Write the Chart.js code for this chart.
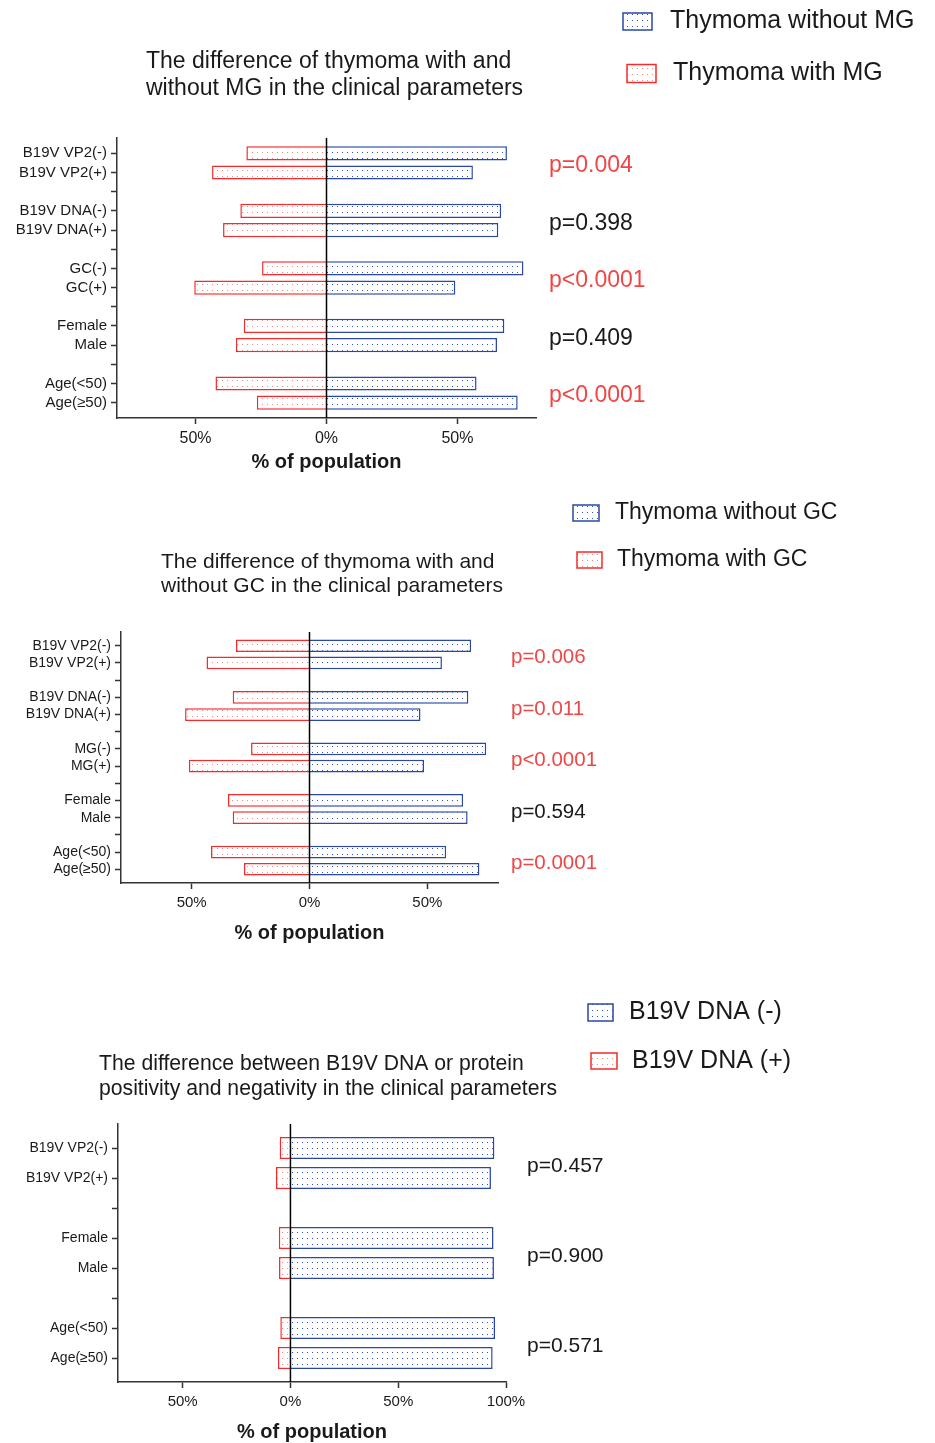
<!DOCTYPE html>
<html>
<head>
<meta charset="utf-8">
<script src="https://cdn.jsdelivr.net/npm/chart.js@4.4.1/dist/chart.umd.min.js"></script>
<style>
  body { margin: 0; background: #fff; width: 935px; height: 1443px; position: relative; overflow: hidden; }
  canvas { position: absolute; left: 0; }
</style>
</head>
<body>
<canvas id="c1" width="935" height="480" style="top:0"></canvas>
<canvas id="c2" width="935" height="480" style="top:480px"></canvas>
<canvas id="c3" width="935" height="485" style="top:960px"></canvas>
<script>
// chart 1: MG
const rowsMG = ['B19V VP2(-)', 'B19V VP2(+)', '', 'B19V DNA(-)', 'B19V DNA(+)', '', 'GC(-)', 'GC(+)', '', 'Female', 'Male', '', 'Age(<50)', 'Age(≥50)'];
const withoutMG = [68.9, 55.9, null, 66.7, 65.6, null, 75.2, 49.2, null, 67.9, 65.1, null, 57.3, 73.0];
const withMG = [30.6, 43.7, null, 32.9, 39.5, null, 24.6, 50.5, null, 31.6, 34.6, null, 42.4, 26.6];
const pMG = ['p=0.004', 'p=0.398', 'p<0.0001', 'p=0.409', 'p<0.0001'];
const legendMG = ['Thymoma without MG', 'Thymoma with MG'];
const titleMG = ['The difference of thymoma with and', 'without MG in the clinical parameters'];

// chart 2: GC
const rowsGC = ['B19V VP2(-)', 'B19V VP2(+)', '', 'B19V DNA(-)', 'B19V DNA(+)', '', 'MG(-)', 'MG(+)', '', 'Female', 'Male', '', 'Age(<50)', 'Age(≥50)'];
const withoutGC = [68.6, 56.2, null, 67.4, 47.1, null, 75.0, 48.6, null, 65.2, 67.1, null, 58.0, 72.1];
const withGC = [31.2, 43.7, null, 32.6, 52.8, null, 24.8, 51.2, null, 34.6, 32.6, null, 41.8, 27.8];
const pGC = ['p=0.006', 'p=0.011', 'p<0.0001', 'p=0.594', 'p=0.0001'];
const legendGC = ['Thymoma without GC', 'Thymoma with GC'];
const titleGC = ['The difference of thymoma with and', 'without GC in the clinical parameters'];

// chart 3: B19V DNA
const rowsDNA = ['B19V VP2(-)', 'B19V VP2(+)', '', 'Female', 'Male', '', 'Age(<50)', 'Age(≥50)'];
const dnaNeg = [94.6, 93.0, null, 94.2, 94.4, null, 94.9, 93.8];
const dnaPos = [5.0, 6.7, null, 5.4, 5.3, null, 4.7, 5.8];
const pDNA = ['p=0.457', 'p=0.900', 'p=0.571'];
const legendDNA = ['B19V DNA (-)', 'B19V DNA (+)'];
const titleDNA = ['The difference between B19V DNA or protein', 'positivity and negativity in the clinical parameters'];

const ticksMG = [-50, 0, 50];
const ticksDNA = [-50, 0, 50, 100];

const FONT = '"Liberation Sans", Arial, Helvetica, sans-serif';
const BLUE = '#2a47a6';
const RED = '#f52a2a';
const PRED = '#ef4646';
const INK = '#1a1a1a';

function dots(color) {
  const c = document.createElement('canvas');
  c.width = 5; c.height = 6;
  const g = c.getContext('2d');
  g.fillStyle = '#fff';
  g.fillRect(0, 0, 5, 6);
  g.fillStyle = color;
  g.fillRect(2, 2, 1, 1);
  return g.createPattern(c, 'repeat');
}
const bluePat = dots('#2f4fc0');
const redPat = dots('#f08a8a');

const decorations = {
  id: 'decorations',
  afterDraw(chart, args, o) {
    const { ctx, chartArea } = chart;
    const x = chart.scales.x, y = chart.scales.y;
    ctx.save();
    // zero line
    const x0 = x.getPixelForValue(0);
    ctx.strokeStyle = '#000';
    ctx.lineWidth = 1.5;
    ctx.beginPath();
    ctx.moveTo(x0, chartArea.top);
    ctx.lineTo(x0, chartArea.bottom);
    ctx.stroke();

    // title
    ctx.textAlign = 'left';
    ctx.textBaseline = 'middle';
    ctx.fillStyle = INK;
    ctx.font = o.titleSize + 'px ' + FONT;
    o.title.forEach((t, i) => ctx.fillText(t, o.titleX, o.titleY[i]));

    // legend
    ctx.font = o.legendSize + 'px ' + FONT;
    o.legend.forEach((b, i) => {
      ctx.fillStyle = i === 0 ? bluePat : redPat;
      ctx.fillRect(b.x, b.y - b.h / 2, b.w, b.h);
      ctx.strokeStyle = i === 0 ? BLUE : RED;
      ctx.lineWidth = 1.5;
      ctx.strokeRect(b.x, b.y - b.h / 2, b.w, b.h);
      ctx.fillStyle = INK;
      ctx.fillText(o.names[i], b.tx, b.y);
    });

    // p values, centred on each pair of rows
    ctx.font = o.pSize + 'px ' + FONT;
    o.pvals.forEach((p, k) => {
      const yy = (y.getPixelForValue(3 * k) + y.getPixelForValue(3 * k + 1)) / 2 + 3;
      ctx.fillStyle = parseFloat(p.slice(2)) < 0.05 ? PRED : INK;
      ctx.fillText(p, chartArea.right + o.pGap, yy);
    });
    ctx.restore();
  }
};

function makeChart(id, c) {
  const toPts = (arr, sign) => arr.map((v, i) => v == null ? null : { x: sign * v, y: i }).filter(Boolean);
  const H = c.canvasH;
  return new Chart(document.getElementById(id), {
    type: 'bar',
    data: {
      datasets: [
        { data: toPts(c.pos, 1), backgroundColor: bluePat, borderColor: BLUE, borderWidth: 1.5, grouped: false, barPercentage: 0.74, categoryPercentage: 1 },
        { data: toPts(c.neg, -1), backgroundColor: redPat, borderColor: RED, borderWidth: 1.5, grouped: false, barPercentage: 0.74, categoryPercentage: 1 }
      ]
    },
    options: {
      indexAxis: 'y',
      responsive: false,
      animation: false,
      layout: { padding: { left: 0, right: 935 - c.area.right, top: c.area.top, bottom: H - c.area.bottom - c.xH } },
      plugins: {
        legend: { display: false },
        tooltip: { enabled: false },
        decorations: c.deco
      },
      scales: {
        x: {
          type: 'linear',
          min: c.xMin, max: c.xMax,
          afterBuildTicks: s => { s.ticks = c.xTicks.map(v => ({ value: v })); },
          afterFit: s => { s.height = c.xH; },
          ticks: { color: INK, font: { family: FONT, size: c.xTickSize }, padding: 5, callback: v => Math.abs(v) + '%' },
          grid: { drawOnChartArea: false, drawTicks: true, tickLength: 6, tickColor: '#333', tickWidth: 1.5 },
          border: { color: '#333', width: 1.5 },
          title: { display: true, text: '% of population', color: INK, font: { family: FONT, size: 20, weight: 'bold' }, padding: { top: 0, bottom: c.xTitlePad } }
        },
        y: {
          type: 'linear',
          reverse: true,
          offset: false,
          min: -0.8, max: c.rows.length - 0.2,
          afterBuildTicks: s => { s.ticks = c.rows.map((_, i) => ({ value: i })); },
          afterFit: s => { s.width = c.area.left; },
          ticks: { color: INK, font: { family: FONT, size: c.yTickSize }, padding: 4, autoSkip: false, callback: v => c.rows[v] || '' },
          grid: { offset: false, drawOnChartArea: false, drawTicks: true, tickLength: 6, tickColor: '#333', tickWidth: 1.5 },
          border: { color: '#333', width: 1.5 }
        }
      }
    },
    plugins: [decorations]
  });
}

makeChart('c1', {
  rows: rowsMG, pos: withoutMG, neg: withMG, canvasH: 480,
  area: { left: 117, right: 536, top: 138, bottom: 418 }, xH: 62, xTitlePad: 6,
  xMin: -80, xMax: 80, xTicks: ticksMG, xTickSize: 16, yTickSize: 15,
  deco: {
    title: titleMG, titleX: 146, titleY: [62, 89], titleSize: 23,
    names: legendMG, legendSize: 25,
    legend: [{ x: 623, y: 21.5, w: 29, h: 17, tx: 670 }, { x: 627, y: 73.5, w: 29, h: 18, tx: 673 }],
    pvals: pMG, pSize: 23, pGap: 13
  }
});

makeChart('c2', {
  rows: rowsGC, pos: withoutGC, neg: withGC, canvasH: 480,
  area: { left: 121, right: 498, top: 152, bottom: 403 }, xH: 77, xTitlePad: 15,
  xMin: -80, xMax: 80, xTicks: ticksMG, xTickSize: 15, yTickSize: 14,
  deco: {
    title: titleGC, titleX: 161, titleY: [82, 106], titleSize: 21,
    names: legendGC, legendSize: 23,
    legend: [{ x: 573, y: 33, w: 26, h: 16, tx: 615 }, { x: 577, y: 80, w: 25, h: 16, tx: 617 }],
    pvals: pGC, pSize: 20.5, pGap: 13
  }
});

makeChart('c3', {
  rows: rowsDNA, pos: dnaNeg, neg: dnaPos, canvasH: 485,
  area: { left: 118, right: 506, top: 164, bottom: 422 }, xH: 63, xTitlePad: 1,
  xMin: -80, xMax: 100, xTicks: ticksDNA, xTickSize: 15, yTickSize: 14,
  deco: {
    title: titleDNA, titleX: 99, titleY: [104, 129], titleSize: 21.2,
    names: legendDNA, legendSize: 25,
    legend: [{ x: 588, y: 52.5, w: 25, h: 17, tx: 629 }, { x: 591, y: 101, w: 26, h: 16, tx: 632 }],
    pvals: pDNA, pSize: 21, pGap: 21
  }
});
</script>
</body>
</html>
